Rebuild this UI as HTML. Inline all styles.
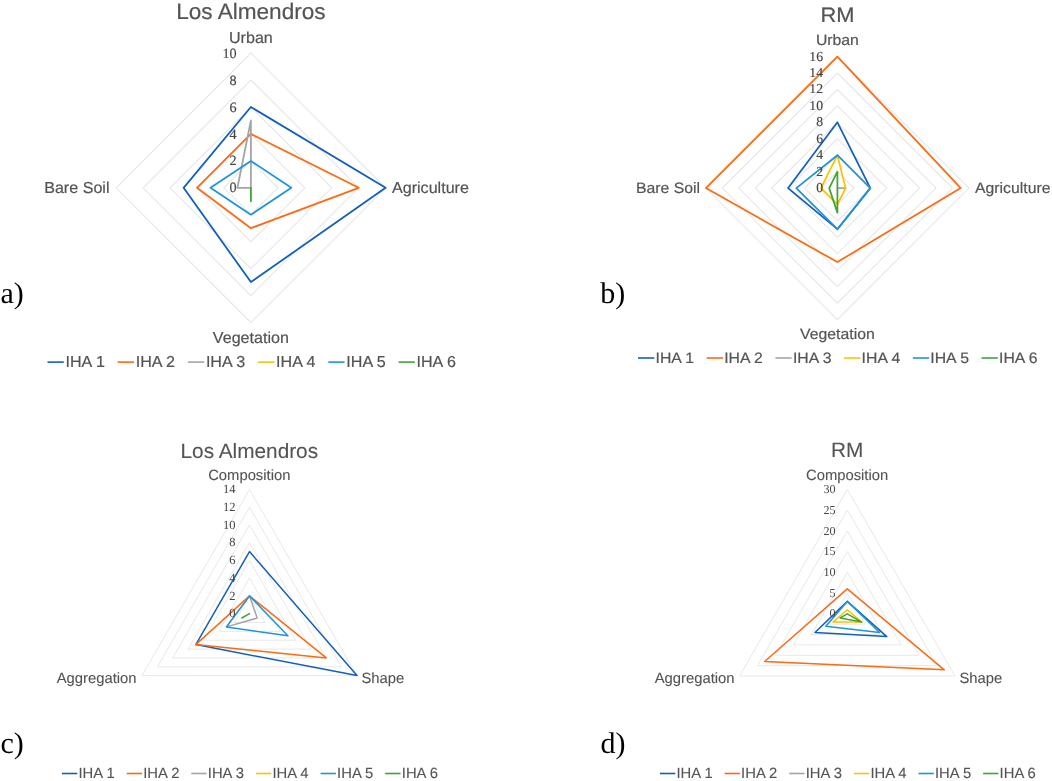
<!DOCTYPE html>
<html lang="en">
<head>
<meta charset="utf-8">
<title>Radar charts</title>
<style>
html,body{margin:0;padding:0;background:#fff;}
body{width:1052px;height:781px;overflow:hidden;}
svg{display:block;}
text{white-space:pre;text-rendering:geometricPrecision;}
</style>
</head>
<body>
<svg width="1052" height="781" viewBox="0 0 1052 781">
<rect x="0" y="0" width="1052" height="781" fill="#ffffff"/>
<g id="chart-a">
<g fill="none" stroke="#e7e7e7" stroke-width="1.1" stroke-linejoin="miter">
<polygon points="250.9,160.9 277.8,187.8 250.9,214.7 224.0,187.8"/>
<polygon points="250.9,133.9 304.8,187.8 250.9,241.7 197.0,187.8"/>
<polygon points="250.9,107.0 331.7,187.8 250.9,268.6 170.1,187.8"/>
<polygon points="250.9,80.0 358.7,187.8 250.9,295.6 143.1,187.8"/>
<polygon points="250.9,53.1 385.6,187.8 250.9,322.5 116.2,187.8"/>
</g>
<g fill="none" stroke-width="1.8" stroke-linejoin="round" stroke-linecap="round">
<polygon points="250.9,107.0 385.6,187.8 250.9,282.1 183.6,187.8" stroke="#1160be"/>
<polygon points="250.9,133.9 358.7,187.8 250.9,228.2 197.0,187.8" stroke="#fc6a12"/>
<polygon points="250.9,120.5 250.9,187.8 250.9,187.8 237.4,187.8" stroke="#a5a5a5"/>
<polygon points="250.9,160.9 291.3,187.8 250.9,214.7 210.5,187.8" stroke="#1f95d8"/>
<polygon points="250.9,187.8 250.9,187.8 250.9,201.3 250.9,187.8" stroke="#3fa535"/>
</g>
<g font-family="'Liberation Serif', serif" fill="#454545" stroke="#454545" stroke-width="0.15">
<text transform="translate(236.6 192.4)" font-size="14.2" text-anchor="end">0</text>
<text transform="translate(236.6 165.4)" font-size="14.2" text-anchor="end">2</text>
<text transform="translate(236.6 138.5)" font-size="14.2" text-anchor="end">4</text>
<text transform="translate(236.6 111.6)" font-size="14.2" text-anchor="end">6</text>
<text transform="translate(236.6 84.6)" font-size="14.2" text-anchor="end">8</text>
<text transform="translate(236.6 57.7)" font-size="14.2" text-anchor="end">10</text>
</g>
<g font-family="'Liberation Sans', sans-serif" fill="#545454" stroke="#545454" stroke-width="0.2">
<text transform="translate(250.9 18.9) scale(1 0.985)" font-size="22.6" text-anchor="middle">Los Almendros</text>
<text transform="translate(250.9 43.0) scale(1 0.985)" font-size="16.1" text-anchor="middle">Urban</text>
<text transform="translate(392.0 192.8) scale(1 0.985)" font-size="16.1">Agriculture</text>
<text transform="translate(250.9 343.3) scale(1 0.985)" font-size="16.1" text-anchor="middle">Vegetation</text>
<text transform="translate(109.5 192.8) scale(1 0.985)" font-size="16.1" text-anchor="end">Bare Soil</text>
<line x1="47.5" y1="362.1" x2="63.8" y2="362.1" stroke="#1160be" stroke-width="1.6"/>
<text transform="translate(65.5 367.2) scale(1 0.985)" font-size="16.1">IHA 1</text>
<line x1="117.7" y1="362.1" x2="134.0" y2="362.1" stroke="#fc6a12" stroke-width="1.6"/>
<text transform="translate(135.7 367.2) scale(1 0.985)" font-size="16.1">IHA 2</text>
<line x1="187.9" y1="362.1" x2="204.2" y2="362.1" stroke="#a5a5a5" stroke-width="1.6"/>
<text transform="translate(205.9 367.2) scale(1 0.985)" font-size="16.1">IHA 3</text>
<line x1="258.1" y1="362.1" x2="274.4" y2="362.1" stroke="#ffc000" stroke-width="1.6"/>
<text transform="translate(276.1 367.2) scale(1 0.985)" font-size="16.1">IHA 4</text>
<line x1="328.3" y1="362.1" x2="344.6" y2="362.1" stroke="#1f95d8" stroke-width="1.6"/>
<text transform="translate(346.3 367.2) scale(1 0.985)" font-size="16.1">IHA 5</text>
<line x1="398.5" y1="362.1" x2="414.8" y2="362.1" stroke="#3fa535" stroke-width="1.6"/>
<text transform="translate(416.5 367.2) scale(1 0.985)" font-size="16.1">IHA 6</text>
</g>
<text x="0.4" y="302.6" font-family="'Liberation Serif', serif" font-size="30" fill="#000">a)</text>
</g>
<g id="chart-b">
<g fill="none" stroke="#e7e7e7" stroke-width="1.1" stroke-linejoin="miter">
<polygon points="837.4,171.7 853.8,188.1 837.4,204.5 821.0,188.1"/>
<polygon points="837.4,155.2 870.3,188.1 837.4,221.0 804.5,188.1"/>
<polygon points="837.4,138.8 886.7,188.1 837.4,237.4 788.1,188.1"/>
<polygon points="837.4,122.3 903.1,188.1 837.4,253.8 771.6,188.1"/>
<polygon points="837.4,105.9 919.6,188.1 837.4,270.3 755.2,188.1"/>
<polygon points="837.4,89.5 936.0,188.1 837.4,286.7 738.8,188.1"/>
<polygon points="837.4,73.0 952.5,188.1 837.4,303.2 722.3,188.1"/>
<polygon points="837.4,56.6 968.9,188.1 837.4,319.6 705.9,188.1"/>
</g>
<g fill="none" stroke-width="1.75" stroke-linejoin="round" stroke-linecap="round">
<polygon points="837.4,122.3 870.3,188.1 837.4,229.2 788.1,188.1" stroke="#1160be"/>
<polygon points="837.4,56.6 960.7,188.1 837.4,262.1 705.9,188.1" stroke="#fc6a12"/>
<polygon points="837.4,188.1 845.6,188.1 837.4,188.1 837.4,188.1" stroke="#a5a5a5"/>
<polygon points="837.4,155.2 845.6,188.1 837.4,204.5 821.0,188.1" stroke="#ffc000"/>
<polygon points="837.4,155.2 870.3,188.1 837.4,229.2 796.3,188.1" stroke="#1f95d8"/>
<polygon points="837.4,171.7 837.4,188.1 837.4,212.8 829.2,188.1" stroke="#3fa535"/>
</g>
<g font-family="'Liberation Serif', serif" fill="#454545" stroke="#454545" stroke-width="0.15">
<text transform="translate(823.0 192.0)" font-size="13.7" text-anchor="end">0</text>
<text transform="translate(823.0 175.6)" font-size="13.7" text-anchor="end">2</text>
<text transform="translate(823.0 159.1)" font-size="13.7" text-anchor="end">4</text>
<text transform="translate(823.0 142.7)" font-size="13.7" text-anchor="end">6</text>
<text transform="translate(823.0 126.3)" font-size="13.7" text-anchor="end">8</text>
<text transform="translate(823.0 109.8)" font-size="13.7" text-anchor="end">10</text>
<text transform="translate(823.0 93.4)" font-size="13.7" text-anchor="end">12</text>
<text transform="translate(823.0 77.0)" font-size="13.7" text-anchor="end">14</text>
<text transform="translate(823.0 60.5)" font-size="13.7" text-anchor="end">16</text>
</g>
<g font-family="'Liberation Sans', sans-serif" fill="#545454" stroke="#545454" stroke-width="0.2">
<text transform="translate(837.4 22.3) scale(1 0.955)" font-size="21.9" text-anchor="middle">RM</text>
<text transform="translate(837.4 45.3) scale(1 0.955)" font-size="15.8" text-anchor="middle">Urban</text>
<text transform="translate(975.0 192.8) scale(1 0.955)" font-size="15.8">Agriculture</text>
<text transform="translate(837.4 338.9) scale(1 0.955)" font-size="15.8" text-anchor="middle">Vegetation</text>
<text transform="translate(700.0 192.8) scale(1 0.955)" font-size="15.8" text-anchor="end">Bare Soil</text>
<line x1="638.0" y1="358" x2="654.3" y2="358" stroke="#1160be" stroke-width="1.6"/>
<text transform="translate(655.5 363.1) scale(1 0.955)" font-size="15.8">IHA 1</text>
<line x1="706.7" y1="358" x2="723.0" y2="358" stroke="#fc6a12" stroke-width="1.6"/>
<text transform="translate(724.2 363.1) scale(1 0.955)" font-size="15.8">IHA 2</text>
<line x1="775.4" y1="358" x2="791.7" y2="358" stroke="#a5a5a5" stroke-width="1.6"/>
<text transform="translate(792.9 363.1) scale(1 0.955)" font-size="15.8">IHA 3</text>
<line x1="844.1" y1="358" x2="860.4" y2="358" stroke="#ffc000" stroke-width="1.6"/>
<text transform="translate(861.6 363.1) scale(1 0.955)" font-size="15.8">IHA 4</text>
<line x1="912.8" y1="358" x2="929.1" y2="358" stroke="#1f95d8" stroke-width="1.6"/>
<text transform="translate(930.3 363.1) scale(1 0.955)" font-size="15.8">IHA 5</text>
<line x1="981.5" y1="358" x2="997.8" y2="358" stroke="#3fa535" stroke-width="1.6"/>
<text transform="translate(999.0 363.1) scale(1 0.955)" font-size="15.8">IHA 6</text>
</g>
<text x="600.2" y="302.9" font-family="'Liberation Serif', serif" font-size="30" fill="#000">b)</text>
</g>
<g id="chart-c">
<g fill="none" stroke="#e8e8e8" stroke-width="1.0" stroke-linejoin="miter">
<polygon points="249.5,595.9 264.9,622.5 234.1,622.5"/>
<polygon points="249.5,578.1 280.2,631.3 218.8,631.3"/>
<polygon points="249.5,560.4 295.6,640.2 203.4,640.2"/>
<polygon points="249.5,542.7 310.9,649.1 188.1,649.1"/>
<polygon points="249.5,525.0 326.3,657.9 172.7,657.9"/>
<polygon points="249.5,507.2 341.6,666.8 157.4,666.8"/>
<polygon points="249.5,489.5 357.0,675.6 142.0,675.7"/>
</g>
<g fill="none" stroke-width="1.5" stroke-linejoin="round" stroke-linecap="round">
<polygon points="249.5,551.6 357.0,675.6 195.8,644.6" stroke="#1160be"/>
<polygon points="249.5,595.9 326.3,657.9 195.8,644.6" stroke="#fc6a12"/>
<polygon points="249.5,595.9 257.2,618.0 226.5,626.9" stroke="#a5a5a5"/>
<polygon points="249.5,595.9 287.9,635.8 226.5,626.9" stroke="#1f95d8"/>
<polygon points="249.5,613.6 249.5,613.6 241.8,618.0" stroke="#3fa535"/>
</g>
<g font-family="'Liberation Serif', serif" fill="#454545" stroke="#454545" stroke-width="0">
<text transform="translate(235.5 617.2)" font-size="12.5" text-anchor="end">0</text>
<text transform="translate(235.5 599.5)" font-size="12.5" text-anchor="end">2</text>
<text transform="translate(235.5 581.8)" font-size="12.5" text-anchor="end">4</text>
<text transform="translate(235.5 564.0)" font-size="12.5" text-anchor="end">6</text>
<text transform="translate(235.5 546.3)" font-size="12.5" text-anchor="end">8</text>
<text transform="translate(235.5 528.6)" font-size="12.5" text-anchor="end">10</text>
<text transform="translate(235.5 510.9)" font-size="12.5" text-anchor="end">12</text>
<text transform="translate(235.5 493.1)" font-size="12.5" text-anchor="end">14</text>
</g>
<g font-family="'Liberation Sans', sans-serif" fill="#545454" stroke="#545454" stroke-width="0.1">
<text transform="translate(249.3 457.7)" font-size="20.8" text-anchor="middle">Los Almendros</text>
<text transform="translate(249.3 480.0)" font-size="14.8" text-anchor="middle">Composition</text>
<text transform="translate(361.5 682.8)" font-size="14.8">Shape</text>
<text transform="translate(136.5 682.8)" font-size="14.8" text-anchor="end">Aggregation</text>
<line x1="62.0" y1="773.5" x2="77.3" y2="773.5" stroke="#1160be" stroke-width="1.6"/>
<text transform="translate(78.5 778.3)" font-size="14.8">IHA 1</text>
<line x1="126.7" y1="773.5" x2="142.0" y2="773.5" stroke="#fc6a12" stroke-width="1.6"/>
<text transform="translate(143.2 778.3)" font-size="14.8">IHA 2</text>
<line x1="191.3" y1="773.5" x2="206.6" y2="773.5" stroke="#a5a5a5" stroke-width="1.6"/>
<text transform="translate(207.8 778.3)" font-size="14.8">IHA 3</text>
<line x1="256.0" y1="773.5" x2="271.2" y2="773.5" stroke="#ffc000" stroke-width="1.6"/>
<text transform="translate(272.4 778.3)" font-size="14.8">IHA 4</text>
<line x1="320.6" y1="773.5" x2="335.9" y2="773.5" stroke="#1f95d8" stroke-width="1.6"/>
<text transform="translate(337.1 778.3)" font-size="14.8">IHA 5</text>
<line x1="385.2" y1="773.5" x2="400.6" y2="773.5" stroke="#3fa535" stroke-width="1.6"/>
<text transform="translate(401.8 778.3)" font-size="14.8">IHA 6</text>
</g>
<text x="0.4" y="752.9" font-family="'Liberation Serif', serif" font-size="30" fill="#000">c)</text>
</g>
<g id="chart-d">
<g fill="none" stroke="#e8e8e8" stroke-width="1.0" stroke-linejoin="miter">
<polygon points="847.3,593.1 865.3,624.2 829.3,624.2"/>
<polygon points="847.3,572.3 883.2,634.5 811.4,634.5"/>
<polygon points="847.3,551.6 901.2,644.9 793.4,644.9"/>
<polygon points="847.3,530.9 919.1,655.3 775.5,655.3"/>
<polygon points="847.3,510.1 937.1,665.6 757.5,665.6"/>
<polygon points="847.3,489.4 955.0,676.0 739.6,676.0"/>
</g>
<g fill="none" stroke-width="1.5" stroke-linejoin="round" stroke-linecap="round">
<polygon points="847.3,601.4 886.8,636.6 815.0,632.5" stroke="#1160be"/>
<polygon points="847.3,588.9 944.3,669.8 764.7,661.5" stroke="#fc6a12"/>
<polygon points="847.3,609.7 861.7,622.1 832.9,622.1" stroke="#ffc000"/>
<polygon points="847.3,601.4 879.6,632.5 825.8,626.2" stroke="#1f95d8"/>
<polygon points="847.3,613.8 861.7,622.1 840.1,617.9" stroke="#3fa535"/>
</g>
<g font-family="'Liberation Serif', serif" fill="#454545" stroke="#454545" stroke-width="0">
<text transform="translate(835.5 617.4)" font-size="12.1" text-anchor="end">0</text>
<text transform="translate(835.5 596.7)" font-size="12.1" text-anchor="end">5</text>
<text transform="translate(835.5 575.9)" font-size="12.1" text-anchor="end">10</text>
<text transform="translate(835.5 555.2)" font-size="12.1" text-anchor="end">15</text>
<text transform="translate(835.5 534.5)" font-size="12.1" text-anchor="end">20</text>
<text transform="translate(835.5 513.7)" font-size="12.1" text-anchor="end">25</text>
<text transform="translate(835.5 493.0)" font-size="12.1" text-anchor="end">30</text>
</g>
<g font-family="'Liberation Sans', sans-serif" fill="#545454" stroke="#545454" stroke-width="0.1">
<text transform="translate(847.1 457.4)" font-size="20.8" text-anchor="middle">RM</text>
<text transform="translate(847.1 480.0)" font-size="14.8" text-anchor="middle">Composition</text>
<text transform="translate(959.5 682.8)" font-size="14.8">Shape</text>
<text transform="translate(734.5 682.8)" font-size="14.8" text-anchor="end">Aggregation</text>
<line x1="660.0" y1="773.5" x2="675.3" y2="773.5" stroke="#1160be" stroke-width="1.6"/>
<text transform="translate(676.5 778.3)" font-size="14.8">IHA 1</text>
<line x1="724.6" y1="773.5" x2="739.9" y2="773.5" stroke="#fc6a12" stroke-width="1.6"/>
<text transform="translate(741.1 778.3)" font-size="14.8">IHA 2</text>
<line x1="789.2" y1="773.5" x2="804.5" y2="773.5" stroke="#a5a5a5" stroke-width="1.6"/>
<text transform="translate(805.7 778.3)" font-size="14.8">IHA 3</text>
<line x1="853.9" y1="773.5" x2="869.2" y2="773.5" stroke="#ffc000" stroke-width="1.6"/>
<text transform="translate(870.4 778.3)" font-size="14.8">IHA 4</text>
<line x1="918.5" y1="773.5" x2="933.8" y2="773.5" stroke="#1f95d8" stroke-width="1.6"/>
<text transform="translate(935.0 778.3)" font-size="14.8">IHA 5</text>
<line x1="983.1" y1="773.5" x2="998.4" y2="773.5" stroke="#3fa535" stroke-width="1.6"/>
<text transform="translate(999.6 778.3)" font-size="14.8">IHA 6</text>
</g>
<text x="600.5" y="752.9" font-family="'Liberation Serif', serif" font-size="30" fill="#000">d)</text>
</g>
</svg>
</body>
</html>
